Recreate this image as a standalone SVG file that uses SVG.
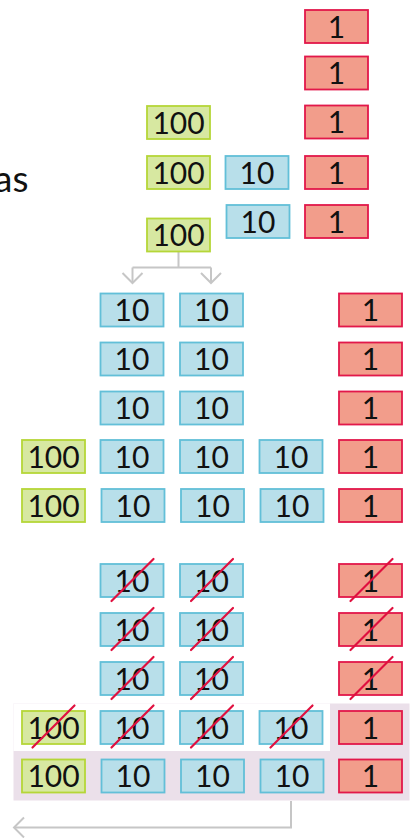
<svg xmlns="http://www.w3.org/2000/svg" width="414" height="838" viewBox="0 0 414 838">
<defs>
<style>
.b rect{stroke-width:1.8}
.g rect{fill:#d7e8a1;stroke:#b5d638}
.t rect{fill:#b8dfea;stroke:#62bfd8}
.r rect{fill:#f29d8b;stroke:#e2184a}
text{font-family:Lato,"Liberation Sans",sans-serif;font-size:30px;fill:#111;text-anchor:middle}
.s{stroke:#e0103f;stroke-width:2.2;fill:none;stroke-linecap:round}
.c{stroke:#c6c6c6;stroke-width:2;fill:none}
</style>
<marker id="chev" viewBox="-12 -12 14 24" markerWidth="14" markerHeight="24" refX="0" refY="0" orient="auto" markerUnits="userSpaceOnUse">
<path d="M-10,-10 L0,0 L-10,10" fill="none" stroke="#c6c6c6" stroke-width="2"/>
</marker>
</defs>
<rect id="highlight" x="13.5" y="703.5" width="396" height="97" fill="#ebe0ea"/>
<rect x="13.5" y="703.5" width="316.5" height="47.5" fill="#fff"/>
<text x="28.5" y="191.5" style="text-anchor:end;font-size:37px">as</text>
<g id="connectors">
<path class="c" d="M178.5 252 V267.5 M132.5 267.5 H211"/>
<path class="c" d="M132.5 267.5 V283" marker-end="url(#chev)"/>
<path class="c" d="M211 267.5 V283" marker-end="url(#chev)"/>
<path class="c" d="M291 801 V827.5 H14" marker-end="url(#chev)"/>
</g>
<!-- top section -->
<g id="r1" class="b r"><rect x="305" y="10" width="63" height="33"/><text x="336.5" y="37.5">1</text></g>
<g id="r2" class="b r"><rect x="305" y="56.5" width="63" height="33"/><text x="336.5" y="84">1</text></g>
<g id="r3" class="b r"><rect x="305" y="105.5" width="63" height="33"/><text x="336.5" y="133">1</text></g>
<g id="r4" class="b r"><rect x="305" y="156" width="63" height="33"/><text x="336.5" y="183.5">1</text></g>
<g id="r5" class="b r"><rect x="305" y="205" width="63" height="33"/><text x="336.5" y="232.5">1</text></g>
<g id="g1" class="b g"><rect x="147" y="106" width="63" height="33"/><text x="178.5" y="133.5">100</text></g>
<g id="g2" class="b g"><rect x="147" y="156" width="63" height="33"/><text x="178.5" y="183.5">100</text></g>
<g id="g3" class="b g"><rect x="147" y="218.5" width="63" height="33"/><text x="178.5" y="246">100</text></g>
<g id="t1" class="b t"><rect x="225.5" y="156" width="63" height="33"/><text x="257" y="183.5">10</text></g>
<g id="t2" class="b t"><rect x="226.5" y="205" width="63" height="33"/><text x="258" y="232.5">10</text></g>
<!-- middle section -->
<g id="mA1" class="b t"><rect x="100.5" y="293.5" width="63" height="33"/><text x="132" y="321">10</text></g>
<g id="mA2" class="b t"><rect x="180" y="293.5" width="63" height="33"/><text x="211.5" y="321">10</text></g>
<g id="mA3" class="b r"><rect x="339" y="293.5" width="63" height="33"/><text x="370.5" y="321">1</text></g>
<g id="mB1" class="b t"><rect x="100.5" y="342.5" width="63" height="33"/><text x="132" y="370">10</text></g>
<g id="mB2" class="b t"><rect x="180" y="342.5" width="63" height="33"/><text x="211.5" y="370">10</text></g>
<g id="mB3" class="b r"><rect x="339" y="342.5" width="63" height="33"/><text x="370.5" y="370">1</text></g>
<g id="mC1" class="b t"><rect x="100.5" y="391.5" width="63" height="33"/><text x="132" y="419">10</text></g>
<g id="mC2" class="b t"><rect x="180" y="391.5" width="63" height="33"/><text x="211.5" y="419">10</text></g>
<g id="mC3" class="b r"><rect x="339" y="391.5" width="63" height="33"/><text x="370.5" y="419">1</text></g>
<g id="mD0" class="b g"><rect x="22" y="440" width="63" height="33"/><text x="53.5" y="467.5">100</text></g>
<g id="mD1" class="b t"><rect x="100.5" y="440" width="63" height="33"/><text x="132" y="467.5">10</text></g>
<g id="mD2" class="b t"><rect x="180" y="440" width="63" height="33"/><text x="211.5" y="467.5">10</text></g>
<g id="mD3" class="b t"><rect x="259.5" y="440" width="63" height="33"/><text x="291" y="467.5">10</text></g>
<g id="mD4" class="b r"><rect x="339" y="440" width="63" height="33"/><text x="370.5" y="467.5">1</text></g>
<g id="mE0" class="b g"><rect x="22" y="489" width="63" height="33"/><text x="53.5" y="516.5">100</text></g>
<g id="mE1" class="b t"><rect x="101.5" y="489" width="63" height="33"/><text x="133" y="516.5">10</text></g>
<g id="mE2" class="b t"><rect x="181" y="489" width="63" height="33"/><text x="212.5" y="516.5">10</text></g>
<g id="mE3" class="b t"><rect x="260.5" y="489" width="63" height="33"/><text x="292" y="516.5">10</text></g>
<g id="mE4" class="b r"><rect x="339" y="489" width="63" height="33"/><text x="370.5" y="516.5">1</text></g>
<!-- bottom section -->
<g id="bF1" class="b t"><rect x="100.5" y="564" width="63" height="33"/><text x="132" y="591.5">10</text><path class="s" d="M111.5 601 L153.5 559"/></g>
<g id="bF2" class="b t"><rect x="180" y="564" width="63" height="33"/><text x="211.5" y="591.5">10</text><path class="s" d="M191 601 L233 559"/></g>
<g id="bF3" class="b r"><rect x="339" y="564" width="63" height="33"/><text x="370.5" y="591.5">1</text><path class="s" d="M350.5 601 L392.5 559"/></g>
<g id="bG1" class="b t"><rect x="100.5" y="613" width="63" height="33"/><text x="132" y="640.5">10</text><path class="s" d="M111.5 650 L153.5 608"/></g>
<g id="bG2" class="b t"><rect x="180" y="613" width="63" height="33"/><text x="211.5" y="640.5">10</text><path class="s" d="M191 650 L233 608"/></g>
<g id="bG3" class="b r"><rect x="339" y="613" width="63" height="33"/><text x="370.5" y="640.5">1</text><path class="s" d="M350.5 650 L392.5 608"/></g>
<g id="bH1" class="b t"><rect x="100.5" y="662" width="63" height="33"/><text x="132" y="689.5">10</text><path class="s" d="M111.5 699 L153.5 657"/></g>
<g id="bH2" class="b t"><rect x="180" y="662" width="63" height="33"/><text x="211.5" y="689.5">10</text><path class="s" d="M191 699 L233 657"/></g>
<g id="bH3" class="b r"><rect x="339" y="662" width="63" height="33"/><text x="370.5" y="689.5">1</text><path class="s" d="M350.5 699 L392.5 657"/></g>
<g id="bI0" class="b g"><rect x="22" y="711" width="63" height="33"/><text x="53.5" y="738.5">100</text><path class="s" d="M32.5 747.5 L74.5 705.5"/></g>
<g id="bI1" class="b t"><rect x="100.5" y="711" width="63" height="33"/><text x="132" y="738.5">10</text><path class="s" d="M111.5 747.5 L153.5 705.5"/></g>
<g id="bI2" class="b t"><rect x="180" y="711" width="63" height="33"/><text x="211.5" y="738.5">10</text><path class="s" d="M191 747.5 L233 705.5"/></g>
<g id="bI3" class="b t"><rect x="259.5" y="711" width="63" height="33"/><text x="291" y="738.5">10</text><path class="s" d="M270.5 747.5 L312.5 705.5"/></g>
<g id="bI4" class="b r"><rect x="339" y="711" width="63" height="33"/><text x="370.5" y="738.5">1</text></g>
<g id="bJ0" class="b g"><rect x="22" y="759.5" width="63" height="33"/><text x="53.5" y="787">100</text></g>
<g id="bJ1" class="b t"><rect x="101.5" y="759.5" width="63" height="33"/><text x="133" y="787">10</text></g>
<g id="bJ2" class="b t"><rect x="181" y="759.5" width="63" height="33"/><text x="212.5" y="787">10</text></g>
<g id="bJ3" class="b t"><rect x="260.5" y="759.5" width="63" height="33"/><text x="292" y="787">10</text></g>
<g id="bJ4" class="b r"><rect x="339" y="759.5" width="63" height="33"/><text x="370.5" y="787">1</text></g>
</svg>
